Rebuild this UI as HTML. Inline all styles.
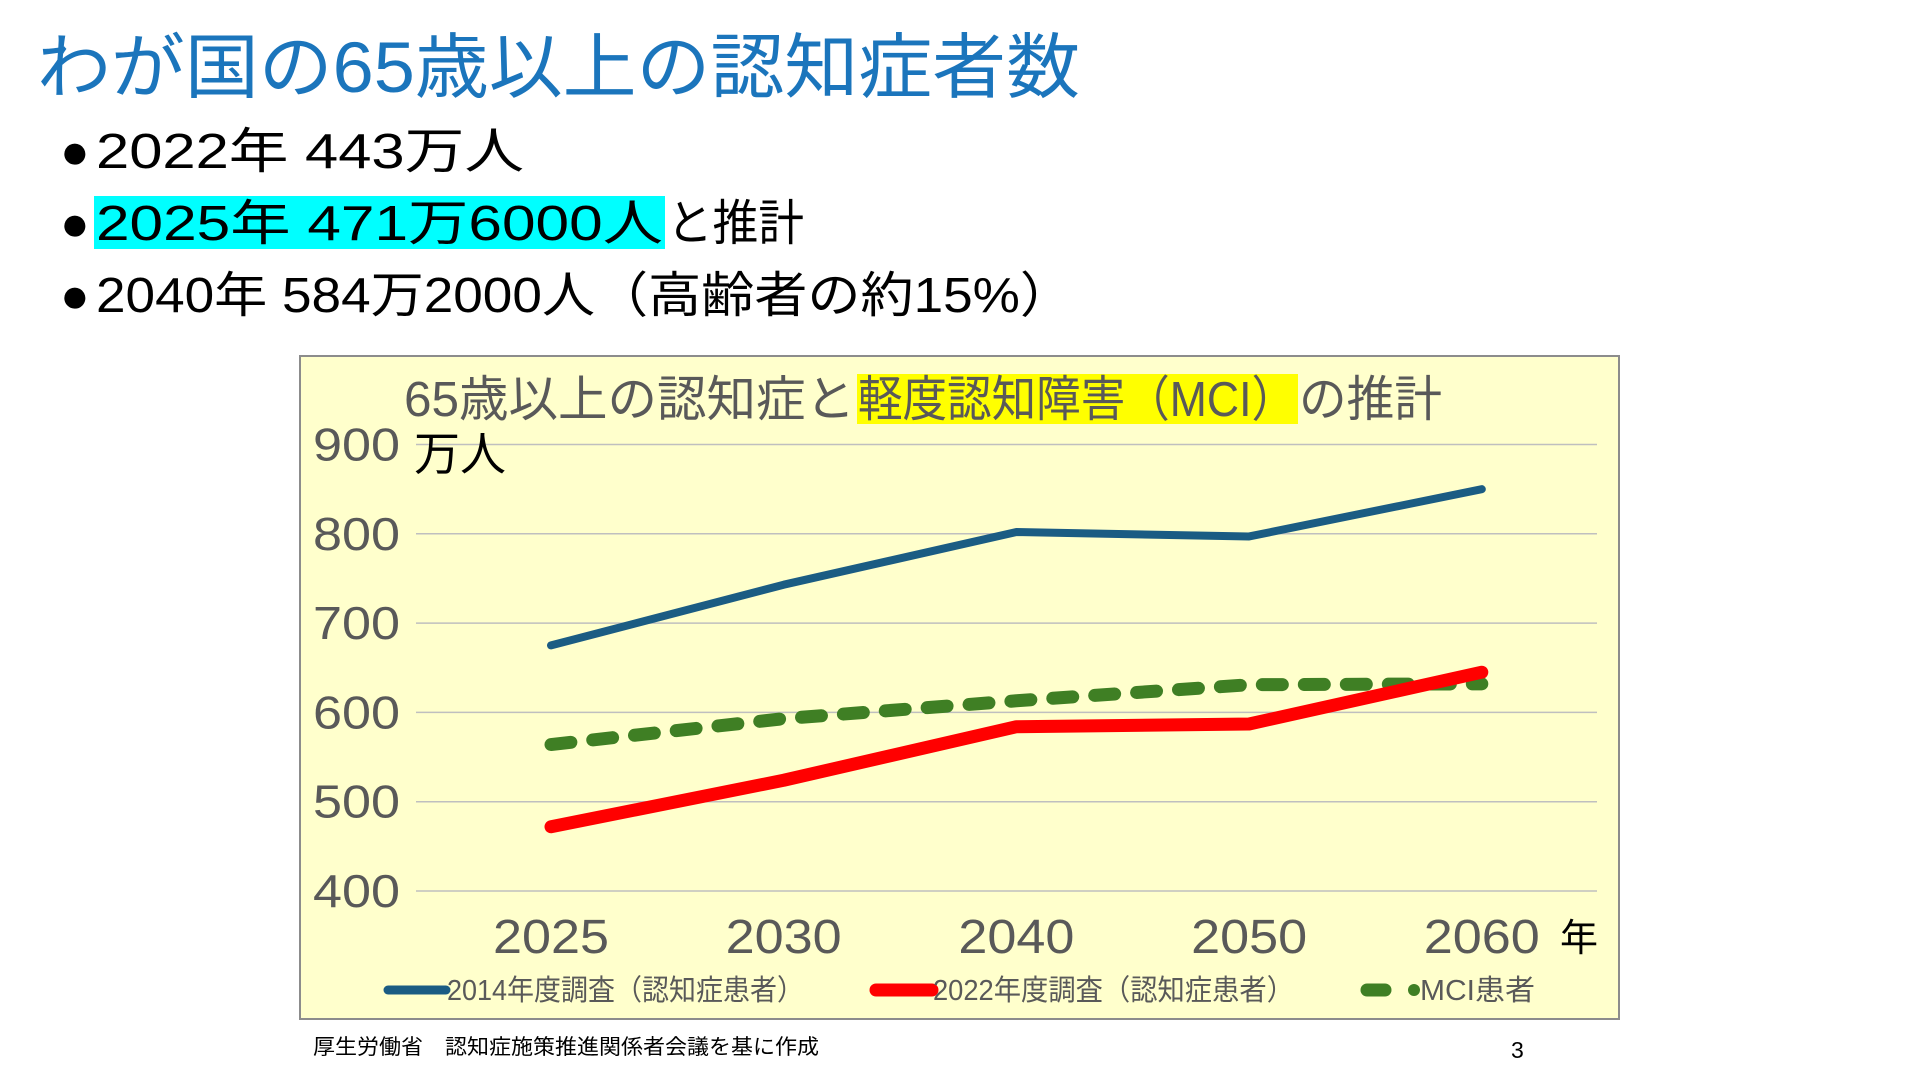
<!DOCTYPE html>
<html><head><meta charset="utf-8"><style>
body{margin:0;width:1920px;height:1080px;background:#fff;overflow:hidden;font-family:"Liberation Sans","Noto Sans CJK JP",sans-serif;}
svg{display:block}
</style></head><body>
<svg id="s" width="1920" height="1080" xmlns="http://www.w3.org/2000/svg" style="font-family:'Liberation Sans','Noto Sans CJK JP',sans-serif">
<text x="37" y="92" font-size="71" fill="#1b75bc" textLength="1043" lengthAdjust="spacingAndGlyphs">わが国の65歳以上の認知症者数</text>
<g font-size="49" fill="#000">
<text x="60" y="168">●</text>
<text x="96" y="168" textLength="428" lengthAdjust="spacingAndGlyphs">2022年  443万人</text>
<rect x="94" y="196" width="571" height="53" fill="#00ffff"/>
<text x="60" y="240">●</text>
<text x="96" y="240" textLength="567" lengthAdjust="spacingAndGlyphs">2025年  471万6000人</text>
<text x="667" y="240" textLength="137" lengthAdjust="spacingAndGlyphs">と推計</text>
<text x="60" y="312">●</text>
<text x="96" y="312" textLength="977" lengthAdjust="spacingAndGlyphs">2040年  584万2000人（高齢者の約15%）</text>
</g>
<rect x="300" y="356" width="1319" height="663" fill="#ffffcc" stroke="#8c8c8c" stroke-width="2"/>
<rect x="857" y="374" width="441" height="50" fill="#ffff00"/>
<g font-size="49" fill="#595959">
<text x="404" y="416" textLength="451" lengthAdjust="spacingAndGlyphs">65歳以上の認知症と</text>
<text x="858" y="416" textLength="438" lengthAdjust="spacingAndGlyphs">軽度認知障害（MCI）</text>
<text x="1299" y="416" textLength="143" lengthAdjust="spacingAndGlyphs">の推計</text>
</g>
<g id="grid"></g>
<g id="lines"></g>
<text x="414" y="470" font-size="46" fill="#000">万人</text>
<text x="1560" y="951" font-size="38" fill="#000">年</text>
<g font-size="29" fill="#595959">
<line x1="388" y1="990" x2="446" y2="990" stroke="#1b5c83" stroke-width="9" stroke-linecap="round"/>
<text x="447" y="1000" textLength="357" lengthAdjust="spacingAndGlyphs">2014年度調査（認知症患者）</text>
<line x1="876" y1="990" x2="932" y2="990" stroke="#ff0000" stroke-width="13" stroke-linecap="round"/>
<text x="933" y="1000" textLength="361" lengthAdjust="spacingAndGlyphs">2022年度調査（認知症患者）</text>
<line x1="1367" y1="990" x2="1400" y2="990" stroke="#3f7f24" stroke-width="13" stroke-linecap="round" stroke-dasharray="18 20"/>
<circle cx="1414" cy="990" r="6" fill="#3f7f24"/>
<text x="1420" y="1000" textLength="115" lengthAdjust="spacingAndGlyphs">MCI患者</text>
</g>
<text x="313" y="1054" font-size="21" fill="#000" textLength="506" lengthAdjust="spacingAndGlyphs">厚生労働省　認知症施策推進関係者会議を基に作成</text>
<text x="1511" y="1058" font-size="23" fill="#000">3</text>
</svg>
<script>
const categories=["2025","2030","2040","2050","2060"];
const yTicks=[400,500,600,700,800,900];
const s2014=[675,743,802,797,850];
const s2022=[472,524,584,587,645];
const sMCI=[564,593,613,631,632];
const NS="http://www.w3.org/2000/svg";
function xp(i){return 551+i*232.7;}
function yp(v){return 891-(v-400)*(891-444.5)/500;}
const grid=document.getElementById('grid'),lines=document.getElementById('lines');
yTicks.forEach(t=>{
  const l=document.createElementNS(NS,'line');
  l.setAttribute('x1',416);l.setAttribute('x2',1597);l.setAttribute('y1',yp(t));l.setAttribute('y2',yp(t));
  l.setAttribute('stroke','#bfbfbf');l.setAttribute('stroke-width','1.5');
  
  
  grid.appendChild(l);
  const tx=document.createElementNS(NS,'text');
  tx.setAttribute('x',313);tx.setAttribute('y',yp(t)+16);
  tx.setAttribute('textLength','87');tx.setAttribute('lengthAdjust','spacingAndGlyphs');
  tx.setAttribute('font-size','46');tx.setAttribute('fill','#595959');tx.textContent=t;
  
  
  grid.appendChild(tx);
});
categories.forEach((c,i)=>{
  const tx=document.createElementNS(NS,'text');
  tx.setAttribute('x',xp(i)-58);tx.setAttribute('y',953);
  tx.setAttribute('textLength','116');tx.setAttribute('lengthAdjust','spacingAndGlyphs');
  tx.setAttribute('font-size','48');tx.setAttribute('fill','#595959');tx.textContent=c;
  
  
  grid.appendChild(tx);
});
function draw(vals,color,w,dash,name){
  const p=document.createElementNS(NS,'polyline');
  p.setAttribute('points',vals.map((v,i)=>xp(i)+','+yp(v)).join(' '));
  p.setAttribute('fill','none');p.setAttribute('stroke',color);p.setAttribute('stroke-width',w);
  p.setAttribute('stroke-linecap','round');p.setAttribute('stroke-linejoin','round');
  if(dash)p.setAttribute('stroke-dasharray',dash);
  
  
  lines.appendChild(p);
}
draw(sMCI,'#3f7f24',13,'20 22','series-mci');
draw(s2014,'#1b5c83',8,null,'series-2014-survey');
draw(s2022,'#ff0000',13,null,'series-2022-survey');
</script>
</body></html>
